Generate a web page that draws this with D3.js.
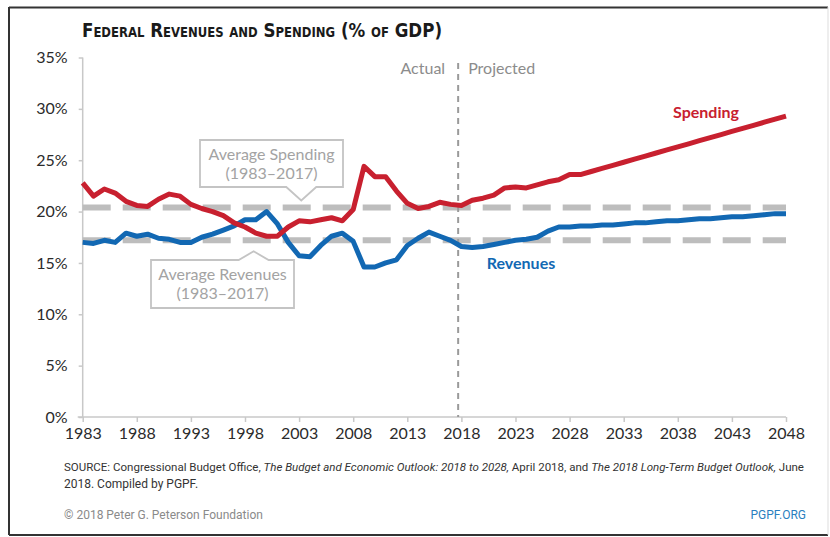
<!DOCTYPE html>
<html>
<head>
<meta charset="utf-8">
<script src="https://cdnjs.cloudflare.com/ajax/libs/d3/7.8.5/d3.min.js"></script>
<style>
  body { margin: 0; background: #fff; }
  svg { display: block; }
</style>
</head>
<body>
<div id="chart"></div>
<script>
// Years 1983..2048 (actual through 2017, projected after).
var years = d3.range(1983, 2049);

var spending = [
  22.8, 21.5, 22.2, 21.8, 21.0, 20.6, 20.5, 21.2, 21.7, 21.5,
  20.7, 20.3, 20.0, 19.6, 18.9, 18.5, 17.9, 17.6, 17.6, 18.5,
  19.1, 19.0, 19.2, 19.4, 19.1, 20.2, 24.4, 23.4, 23.4, 22.0,
  20.8, 20.3, 20.5, 20.9, 20.7,
  20.6, 21.1, 21.3, 21.6, 22.3, 22.4, 22.3, 22.6, 22.9, 23.1,
  23.6, 23.6, 23.9, 24.2, 24.5, 24.8, 25.1, 25.4, 25.7, 26.0,
  26.3, 26.6, 26.9, 27.2, 27.5, 27.8, 28.1, 28.4, 28.7, 29.0, 29.3
];

var revenues = [
  17.0, 16.9, 17.2, 17.0, 17.9, 17.6, 17.8, 17.4, 17.3, 17.0,
  17.0, 17.5, 17.8, 18.2, 18.6, 19.2, 19.2, 20.0, 18.8, 17.0,
  15.7, 15.6, 16.7, 17.6, 17.9, 17.1, 14.6, 14.6, 15.0, 15.3,
  16.7, 17.4, 18.0, 17.6, 17.2,
  16.6, 16.5, 16.6, 16.8, 17.0, 17.2, 17.3, 17.5, 18.1, 18.5,
  18.5, 18.6, 18.6, 18.7, 18.7, 18.8, 18.9, 18.9, 19.0, 19.1,
  19.1, 19.2, 19.3, 19.3, 19.4, 19.5, 19.5, 19.6, 19.7, 19.8, 19.8
];

// Averages over 1983-2017.
var avgSpending = 20.4;
var avgRevenues = 17.2;

var xTickYears = [1983, 1988, 1993, 1998, 2003, 2008, 2013, 2018, 2023, 2028, 2033, 2038, 2043, 2048];
var yTickValues = [0, 5, 10, 15, 20, 25, 30, 35];
var projectionStart = 2017.7;

var W = 830, H = 537;
var plot = { left: 82.7, right: 786, top: 57.5, bottom: 417 };

var svg = d3.select('#chart').append('svg')
    .attr('width', W)
    .attr('height', H);

svg.append('rect').attr('width', W).attr('height', H).attr('fill', '#fff');

// Frame around the whole graphic.
svg.append('line').attr('x1', 9).attr('x2', 828).attr('y1', 7.5).attr('y2', 7.5)
   .attr('stroke', '#333').attr('stroke-width', 2);
svg.append('line').attr('x1', 9).attr('x2', 9).attr('y1', 7).attr('y2', 535)
   .attr('stroke', '#333').attr('stroke-width', 2);
svg.append('line').attr('x1', 9).attr('x2', 828).attr('y1', 535).attr('y2', 535)
   .attr('stroke', '#333').attr('stroke-width', 2);
svg.append('line').attr('x1', 828).attr('x2', 828).attr('y1', 7).attr('y2', 535)
   .attr('stroke', '#ddd').attr('stroke-width', 1);

var x = d3.scaleLinear().domain([1983, 2048]).range([plot.left, plot.right]);
var y = d3.scaleLinear().domain([0, 35]).range([plot.bottom, plot.top]);

// Title, small caps.
svg.append('text')
   .attr('x', 82)
   .attr('y', 37)
   .attr('textLength', 360)
   .attr('lengthAdjust', 'spacingAndGlyphs')
   .style('font-family', '"Liberation Sans Narrow", "DejaVu Sans Condensed", "Liberation Sans", sans-serif')
   .style('font-weight', 'bold')
   .style('font-size', '20px')
   .style('font-variant', 'small-caps')
   .style('fill', '#1a1a1a')
   .text('Federal Revenues and Spending (% of GDP)');

// Axes.
var axisFont = 'Lato, "Open Sans", sans-serif';

var xAxis = svg.append('g')
    .attr('transform', 'translate(0,' + plot.bottom + ')')
    .call(d3.axisBottom(x).tickValues(xTickYears).tickFormat(d3.format('d')).tickSize(5).tickPadding(6));
xAxis.select('.domain').attr('d', 'M' + (plot.left - 5) + ',0H' + plot.right).attr('stroke', '#c8c8c8').attr('stroke-width', 1.5);
xAxis.selectAll('.tick line').attr('stroke', '#c8c8c8').attr('stroke-width', 1.5);
xAxis.selectAll('.tick text')
     .style('font-family', axisFont).style('font-size', '16px').style('fill', '#2b2b2b');

var yAxis = svg.append('g')
    .attr('transform', 'translate(' + plot.left + ',0)')
    .call(d3.axisLeft(y).tickValues(yTickValues).tickFormat(function(d) { return d + '%'; }).tickSize(4).tickPadding(11));
yAxis.select('.domain').attr('d', 'M0,' + plot.top + 'V' + plot.bottom).attr('stroke', '#c8c8c8').attr('stroke-width', 1.5);
yAxis.selectAll('.tick line').attr('stroke', '#c8c8c8').attr('stroke-width', 1.5);
yAxis.selectAll('.tick text')
     .style('font-family', axisFont).style('font-size', '16px').style('fill', '#2b2b2b');

// Average reference lines.
[avgSpending, avgRevenues].forEach(function(v) {
  svg.append('line')
     .attr('x1', x(1983)).attr('x2', x(2048))
     .attr('y1', y(v)).attr('y2', y(v))
     .attr('stroke', '#bdbdbd')
     .attr('stroke-width', 6)
     .attr('stroke-dasharray', '28,12');
});

// Actual / projected divider.
svg.append('line')
   .attr('x1', x(projectionStart)).attr('x2', x(projectionStart))
   .attr('y1', 63).attr('y2', plot.bottom)
   .attr('stroke', '#9a9a9a')
   .attr('stroke-width', 2)
   .attr('stroke-dasharray', '6,5');

svg.append('text')
   .attr('x', x(projectionStart) - 13).attr('y', 74)
   .attr('text-anchor', 'end')
   .style('font-family', axisFont).style('font-size', '16px').style('fill', '#8c8c8c')
   .text('Actual');
svg.append('text')
   .attr('x', x(projectionStart) + 10).attr('y', 74)
   .style('font-family', axisFont).style('font-size', '16px').style('fill', '#8c8c8c')
   .text('Projected');

// Series lines.
var line = d3.line()
    .x(function(d) { return x(d[0]); })
    .y(function(d) { return y(d[1]); });

function drawSeries(values, color) {
  svg.append('path')
     .datum(years.map(function(yr, i) { return [yr, values[i]]; }))
     .attr('fill', 'none')
     .attr('stroke', color)
     .attr('stroke-width', 5)
     .attr('stroke-linejoin', 'round')
     .attr('d', line);
}

drawSeries(revenues, '#1268b3');
drawSeries(spending, '#c8202f');

svg.append('text')
   .attr('x', 706).attr('y', 118)
   .attr('text-anchor', 'middle')
   .style('font-family', axisFont).style('font-weight', 'bold').style('font-size', '16px').style('fill', '#c8202f')
   .text('Spending');
svg.append('text')
   .attr('x', 521).attr('y', 269)
   .attr('text-anchor', 'middle')
   .style('font-family', axisFont).style('font-weight', 'bold').style('font-size', '16px').style('fill', '#1268b3')
   .text('Revenues');

// Callout boxes with a pointer to the average line.
function callout(left, right, top, bottom, tipX, tipY, lines) {
  var half = 15;
  var path;
  if (tipY > bottom) {
    path = 'M' + left + ',' + top + 'H' + right + 'V' + bottom +
           'H' + (tipX + half) + 'L' + tipX + ',' + tipY + 'L' + (tipX - half) + ',' + bottom +
           'H' + left + 'Z';
  } else {
    path = 'M' + left + ',' + top + 'H' + (tipX - half) + 'L' + tipX + ',' + tipY +
           'L' + (tipX + half) + ',' + top + 'H' + right + 'V' + bottom + 'H' + left + 'Z';
  }
  svg.append('path')
     .attr('d', path)
     .attr('fill', '#fff')
     .attr('stroke', '#c4c4c4')
     .attr('stroke-width', 1.8);

  var cx = (left + right) / 2;
  lines.forEach(function(t, i) {
    svg.append('text')
       .attr('x', cx)
       .attr('y', top + 20 + i * 19)
       .attr('text-anchor', 'middle')
       .style('font-family', axisFont).style('font-size', '16px').style('fill', '#a3a3a3')
       .text(t);
  });
}

callout(200, 343, 140, 187, x(2003.2), y(avgSpending) - 7,
        ['Average Spending', '(1983\u20132017)']);
callout(151, 294, 260, 308, x(1998.8), y(avgRevenues) + 11,
        ['Average Revenues', '(1983\u20132017)']);

// Footer. The source line is sized to span the same width as in the original.
var footFont = '"Liberation Sans Narrow", "Roboto", sans-serif';
var src = svg.append('text')
   .attr('x', 64).attr('y', 471)
   .style('font-family', footFont).style('font-size', '12px').style('fill', '#333');
src.append('tspan').text('SOURCE: Congressional Budget Office, ');
src.append('tspan').style('font-style', 'italic').text('The Budget and Economic Outlook: 2018 to 2028,');
src.append('tspan').text(' April 2018, and ');
src.append('tspan').style('font-style', 'italic').text('The 2018 Long-Term Budget Outlook,');
src.append('tspan').text(' June');

var natural = src.node().getComputedTextLength();
if (natural > 0) {
  src.style('font-size', (12 * 741 / natural).toFixed(2) + 'px');
}

svg.append('text')
   .attr('x', 64).attr('y', 488)
   .style('font-family', footFont).style('font-size', '12px').style('fill', '#333')
   .text('2018. Compiled by PGPF.');

svg.append('text')
   .attr('x', 64).attr('y', 519)
   .style('font-family', footFont).style('font-size', '12px').style('fill', '#8a8a8a')
   .text('\u00a9 2018 Peter G. Peterson Foundation');

svg.append('text')
   .attr('x', 806).attr('y', 519)
   .attr('text-anchor', 'end')
   .style('font-family', footFont).style('font-size', '12px').style('fill', '#2a7fc0')
   .text('PGPF.ORG');
</script>
</body>
</html>
